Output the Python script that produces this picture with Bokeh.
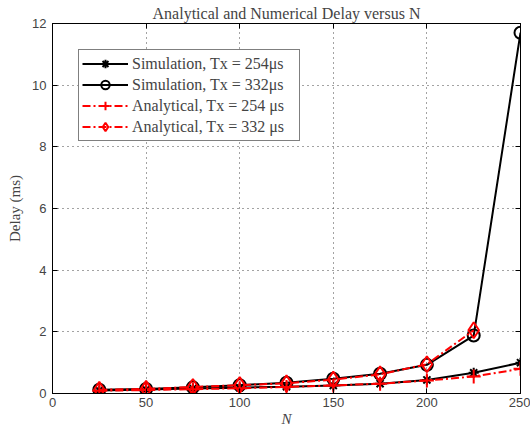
from bokeh.plotting import figure
from bokeh.models import Range1d, LinearAxis, Legend, LegendItem, FixedTicker
from bokeh.embed import file_html
from bokeh.resources import INLINE

N = [25, 50, 75, 100, 125, 150, 175, 200, 225, 250]
sim_254 = [0.10, 0.13, 0.16, 0.19, 0.22, 0.26, 0.32, 0.44, 0.67, 1.00]
sim_332 = [0.12, 0.15, 0.20, 0.27, 0.35, 0.48, 0.64, 0.93, 1.88, 11.70]
ana_254 = [0.09, 0.11, 0.14, 0.17, 0.21, 0.26, 0.32, 0.42, 0.55, 0.80]
ana_332 = [0.12, 0.15, 0.21, 0.27, 0.33, 0.45, 0.62, 0.95, 2.05]
xticks = [0, 50, 100, 150, 200, 250]
yticks = [0, 2, 4, 6, 8, 10, 12]

SERIF = "Liberation Serif"
SANS = "Liberation Sans"

p = figure(width=530, height=429, output_backend="svg", toolbar_location=None,
           x_range=Range1d(0, 250), y_range=Range1d(0, 12),
           min_border_left=52, min_border_right=10, min_border_top=23, min_border_bottom=36)
p.background_fill_color = "white"
p.border_fill_color = "white"
p.outline_line_color = "black"
p.outline_line_width = 1

p.title.text = "Analytical and Numerical Delay versus N"
p.title.text_font = SERIF
p.title.text_font_style = "normal"
p.title.text_font_size = "16px"
p.title.align = "center"
p.title.offset = 0
p.title.standoff = 4

for ax, ticks in ((p.xaxis[0], xticks), (p.yaxis[0], yticks)):
    ax.ticker = FixedTicker(ticks=ticks)
    ax.major_tick_in = 5
    ax.major_tick_out = 0
    ax.minor_tick_in = 0
    ax.minor_tick_out = 0
    ax.axis_line_color = "black"
    ax.major_label_text_font = SANS
    ax.major_label_text_font_size = "13px"
    ax.axis_label_text_font = SERIF
    ax.axis_label_text_font_size = "15px"
    ax.axis_label_text_font_style = "normal"

p.xaxis[0].axis_label = "N"
p.xaxis[0].axis_label_text_font_style = "italic"
p.xaxis[0].axis_label_standoff = 1
p.yaxis[0].axis_label = "Delay (ms)"
p.yaxis[0].axis_label_standoff = 6
p.xaxis[0].major_label_standoff = 4
p.yaxis[0].major_label_standoff = 6

for loc, ticks in (("above", xticks), ("right", yticks)):
    a = LinearAxis(ticker=FixedTicker(ticks=ticks), major_tick_in=5, major_tick_out=0,
                   minor_tick_in=0, minor_tick_out=0, major_label_text_font_size="0px",
                   major_label_text_color=None, axis_line_color="black")
    p.add_layout(a, loc)

p.xgrid.ticker = FixedTicker(ticks=xticks)
p.ygrid.ticker = FixedTicker(ticks=yticks)
for g in (p.xgrid[0], p.ygrid[0]):
    g.grid_line_color = "#333333"
    g.grid_line_dash = "1 4"
    g.grid_line_width = 1
    g.grid_line_alpha = 0.9

l1 = p.line(N, sim_254, line_color="black", line_width=2)
m1 = p.scatter(N, sim_254, marker="asterisk", size=10, line_color="black", line_width=2)
l2 = p.line(N, sim_332, line_color="black", line_width=2)
m2 = p.scatter(N, sim_332, marker="circle", size=12, line_color="black", fill_color=None, line_width=2)
l3 = p.line(N, ana_254, line_color="red", line_width=2, line_dash="8 3 2 3")
m3 = p.scatter(N, ana_254, marker="cross", size=14, line_color="red", line_width=2)
N4 = N[:len(ana_332)]
l4 = p.line(N4, ana_332, line_color="red", line_width=2, line_dash="8 3 2 3")
m4 = p.scatter(N4, ana_332, marker="diamond", size=16, line_color="red", fill_color=None, line_width=2)

legend = Legend(items=[
    LegendItem(label="Simulation, Tx = 254μs", renderers=[l1, m1]),
    LegendItem(label="Simulation, Tx = 332μs", renderers=[l2, m2]),
    LegendItem(label="Analytical, Tx = 254 μs", renderers=[l3, m3]),
    LegendItem(label="Analytical, Tx = 332 μs", renderers=[l4, m4]),
], location="top_left")
legend.margin = 26
legend.padding = 3
legend.spacing = 0
legend.glyph_width = 46
legend.glyph_height = 21
legend.label_height = 20
legend.label_width = 164
legend.label_text_font = SERIF
legend.label_text_font_size = "16px"
legend.label_standoff = 4
legend.border_line_color = "black"
legend.border_line_width = 1
legend.background_fill_color = "white"
legend.background_fill_alpha = 1
p.add_layout(legend, "center")

open("out.html", "w").write(file_html(p, INLINE))
